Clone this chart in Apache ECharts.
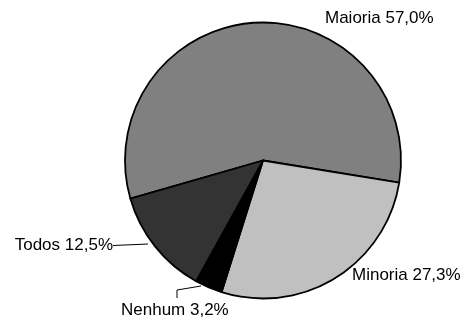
<!DOCTYPE html>
<html>
<head>
<meta charset="utf-8">
<script src="https://cdn.jsdelivr.net/npm/echarts@6/dist/echarts.min.js"></script>
<style>
  html, body { margin: 0; padding: 0; background: #fff; }
  #chart { width: 470px; height: 320px; }
</style>
</head>
<body>
<div id="chart"></div>
<script>
  // dados do gráfico (sentido horário a partir da fatia Maioria)
  var categorias = ['Maioria', 'Minoria', 'Nenhum', 'Todos'];
  var valores = [57.0, 27.3, 3.2, 12.5];
  var cores = ['#808080', '#c0c0c0', '#000000', '#333333'];

  // posição dos rótulos (layout, em pixels)
  var rotulos = {
    Maioria: { x: 325, y: 18, align: 'left' },
    Minoria: { x: 352, y: 275, align: 'left' },
    Todos: { x: 113, y: 245, align: 'right', linha: [[113, 245.5], [148, 244]] },
    Nenhum: { x: 121, y: 310, align: 'left', linha: [[177, 298], [177, 290], [201, 286]] }
  };

  var myChart = echarts.init(document.getElementById('chart'));

  var dados = categorias.map(function (nome, i) {
    return {
      name: nome,
      value: valores[i],
      itemStyle: { color: cores[i] },
      labelLine: { show: !!rotulos[nome].linha }
    };
  });

  var option = {
    animation: false,
    series: [{
      type: 'pie',
      center: [263, 160.5],
      radius: 138,
      startAngle: 196,
      clockwise: true,
      avoidLabelOverlap: false,
      itemStyle: { borderColor: '#000', borderWidth: 1.8 },
      label: {
        show: true,
        position: 'outside',
        color: '#000',
        fontFamily: 'Liberation Sans, Arial, sans-serif',
        fontSize: 17,
        formatter: function (p) {
          return p.name + ' ' + p.value.toFixed(1).replace('.', ',') + '%';
        }
      },
      labelLine: { lineStyle: { color: '#000', width: 1 } },
      labelLayout: function (p) {
        var r = rotulos[categorias[p.dataIndex]];
        var out = { x: r.x, y: r.y, align: r.align, verticalAlign: 'middle' };
        if (r.linha) out.labelLinePoints = r.linha;
        return out;
      },
      data: dados
    }]
  };

  myChart.setOption(option);
</script>
</body>
</html>
